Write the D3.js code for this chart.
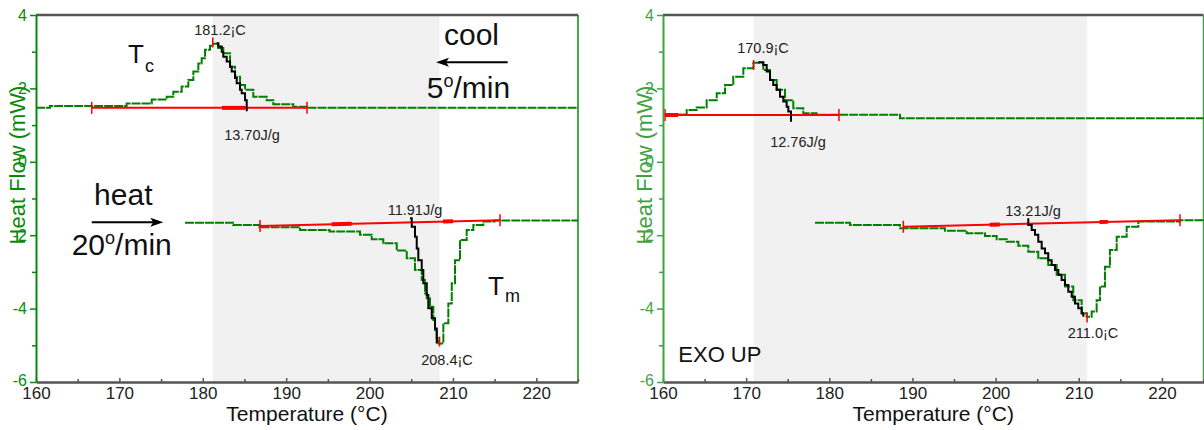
<!DOCTYPE html>
<meta charset="utf-8">
<style>
body { margin: 0; background: #fff; }
svg { display: block; font-family: "Liberation Sans", Arial, sans-serif; }
</style>
<body>
<script src="https://cdn.jsdelivr.net/npm/d3@7"></script>
<script>

var xTicks = [160, 170, 180, 190, 200, 210, 220];
var xMinor = [165, 175, 185, 195, 205, 215, 225];
var yTicks = [4, 2, 0, -2, -4, -6];
var yMinor = [3, 1, -1, -3, -5];

// left run: Tc 181.2, Tm 208.4
var spanA = [181.2, 208.4];
var coolA = [[160,1.47],[161.68,1.52],[170.87,1.59],[173.88,1.70],[175.68,1.77],[176.47,1.91],[177.47,2.05],
  [178.27,2.23],[178.87,2.46],[179.47,2.68],[179.87,2.82],[180.27,3.05],[180.87,3.16],[181.26,3.22],
  [181.86,3.10],[182.46,2.96],[183.27,2.59],[183.87,2.32],[184.47,2.09],[185.07,1.96],[186.06,1.77],
  [187.67,1.68],[188.46,1.57],[190.86,1.50],[192.5,1.47],[225,1.47]];
var coolFitA = [[181.66,3.23],[181.86,3.14],[182.27,3.00],[182.46,2.86],[182.87,2.73],[183.27,2.59],
  [183.47,2.46],[183.87,2.28],[184.07,2.14],[184.47,1.96],[184.67,1.87],[185.07,1.68],[185.27,1.38]];
var coolBaseA = [[166.68,1.47],[192.5,1.47]];
var coolMarksA = [[182.3,185.1]];
var heatA = [[177.87,-1.66],[183.63,-1.72],[186.8,-1.78],[191.66,-1.86],[195.2,-1.90],[198.86,-1.99],
  [200.26,-2.11],[201.65,-2.22],[203.26,-2.42],[204.46,-2.63],[205.45,-2.95],[206.26,-3.22],[206.65,-3.58],
  [206.86,-3.72],[207.25,-3.95],[207.65,-4.31],[207.85,-4.58],[208.06,-4.81],[208.25,-4.95],[208.85,-4.40],
  [209.45,-3.86],[209.86,-3.31],[210.25,-2.68],[210.85,-2.13],[211.65,-1.86],[212.45,-1.72],[213.65,-1.63],
  [215.0,-1.60],[225,-1.60]];
var heatFitA = [[204.85,-1.54],[205.06,-1.77],[205.45,-2.04],[205.66,-2.36],[205.85,-2.68],[206.26,-2.95],
  [206.45,-3.31],[206.86,-3.63],[207.05,-3.99],[207.46,-4.26],[207.85,-4.54],[208.06,-4.95]];
var heatBaseA = [[186.87,-1.75],[215.65,-1.59]];
var heatMarksA = [[195.46,197.86],[208.81,210.01]];
var peaksA = [[181.2,3.25],[208.4,-4.90]];
var labelsA = ["181.2¡C", "13.70J/g", "11.91J/g", "208.4¡C"];

// right run: Tc 170.9, Tm 211.0
var spanB = [170.9, 211.0];
var coolB = [[160,1.29],[162.85,1.41],[164.05,1.48],[165.25,1.68],[166.46,1.87],[167.46,2.09],[168.45,2.32],
  [169.66,2.55],[170.86,2.70],[172.06,2.50],[172.87,2.23],[173.67,1.96],[174.67,1.68],[175.67,1.46],
  [176.87,1.32],[178.48,1.28],[188.5,1.19],[225,1.19]];
var coolFitB = [[171.46,2.71],[172.06,2.64],[172.47,2.46],[172.87,2.23],[173.26,2.09],[173.67,1.96],
  [174.07,1.77],[174.47,1.64],[174.87,1.50],[175.07,1.37],[175.39,1.09]];
var coolBaseB = [[160.24,1.275],[181.16,1.275]];
var coolMarksB = [[160.24,161.8]];
var heatB = [[178.28,-1.66],[182.49,-1.72],[188.5,-1.81],[193.91,-1.88],[196.52,-1.95],[198.72,-2.02],
  [200.13,-2.11],[201.33,-2.18],[202.73,-2.29],[203.93,-2.45],[205.13,-2.63],[206.33,-2.81],[207.34,-3.08],
  [208.34,-3.40],[209.34,-3.77],[210.35,-4.13],[210.95,-4.22],[211.55,-4.08],[212.15,-3.77],[212.55,-3.40],
  [213.15,-2.86],[213.75,-2.40],[214.56,-2.04],[215.76,-1.77],[217.16,-1.63],[222.17,-1.59],[225,-1.59]];
var heatFitB = [[203.93,-1.54],[203.93,-1.72],[204.34,-1.86],[204.73,-1.99],[205.13,-2.18],[205.54,-2.36],
  [205.94,-2.49],[206.33,-2.68],[206.74,-2.81],[207.14,-2.95],[207.54,-3.08],[207.94,-3.22],[208.34,-3.36],
  [208.74,-3.54],[209.15,-3.68],[209.54,-3.86],[209.94,-3.99],[210.35,-4.13],[210.55,-4.22]];
var heatBaseB = [[188.9,-1.77],[222.17,-1.59]];
var heatMarksB = [[199.3,200.5],[212.5,213.5]];
var peaksB = [[170.9,2.64],[211.0,-4.24]];
var labelsB = ["170.9¡C", "12.76J/g", "13.21J/g", "211.0¡C"];

var W = 1204, H = 430, yTop = 15, yBot = 382;

var svg = d3.select("body").append("svg")
    .attr("width", W)
    .attr("height", H);

function arrow(g, x1, x2, yy) {
  var dir = x2 > x1 ? 1 : -1;
  g.append("line")
    .attr("x1", x1).attr("x2", x2 - dir * 8).attr("y1", yy).attr("y2", yy)
    .attr("stroke", "#000").attr("stroke-width", 2);
  g.append("path")
    .attr("d", "M" + x2 + "," + yy + "L" + (x2 - dir * 13) + "," + (yy - 4.5) +
      "L" + (x2 - dir * 10) + "," + yy + "L" + (x2 - dir * 13) + "," + (yy + 4.5) + "Z")
    .attr("fill", "#000");
}

function rateText(g, x0, yy, num) {
  var t = g.append("text").attr("x", x0).attr("y", yy)
    .attr("font-size", 30).attr("fill", "#111");
  t.append("tspan").text(num);
  t.append("tspan").attr("font-size", 18).attr("dy", -11).text("o");
  t.append("tspan").attr("dy", 11).text("/min");
}

function drawPanel(p) {
  var x = d3.scaleLinear().domain([160, 225]).range([p.x0, p.x1]);
  var y = d3.scaleLinear().domain([-6, 4]).range([yBot, yTop]);
  var g = svg.append("g");

  g.append("rect")
    .attr("x", x(p.span[0])).attr("y", y(4))
    .attr("width", x(p.span[1]) - x(p.span[0]))
    .attr("height", y(-6) - y(4))
    .attr("fill", "#f1f1f1");

  g.append("line")
    .attr("x1", x(160)).attr("x2", x(225)).attr("y1", y(4)).attr("y2", y(4))
    .attr("stroke", "#555").attr("stroke-width", 2.5);
  g.append("line")
    .attr("x1", x(225)).attr("x2", x(225)).attr("y1", y(4)).attr("y2", y(-6))
    .attr("stroke", p.color).attr("stroke-width", 1.5);

  var line = d3.line()
    .x(function(d) { return x(d[0]); })
    .y(function(d) { return y(d[1]); })
    .curve(d3.curveStepAfter);

  [p.cool, p.heat].forEach(function(c) {
    g.append("path").attr("d", line(c))
      .attr("fill", "none").attr("stroke", "#008000")
      .attr("stroke-width", 2).attr("stroke-dasharray", "9,1");
  });

  // red baselines with end ticks
  [[p.coolBase, p.coolMarks], [p.heatBase, p.heatMarks]].forEach(function(b) {
    var base = b[0];
    var q = d3.scaleLinear().domain([base[0][0], base[1][0]]).range([base[0][1], base[1][1]]);
    g.append("line")
      .attr("x1", x(base[0][0])).attr("y1", y(base[0][1]))
      .attr("x2", x(base[1][0])).attr("y2", y(base[1][1]))
      .attr("stroke", "#f00").attr("stroke-width", 2);
    base.forEach(function(pt) {
      g.append("line")
        .attr("x1", x(pt[0])).attr("x2", x(pt[0]))
        .attr("y1", y(pt[1]) - 6).attr("y2", y(pt[1]) + 6)
        .attr("stroke", "#f00").attr("stroke-width", 1.5);
    });
    b[1].forEach(function(m) {
      g.append("line")
        .attr("x1", x(m[0])).attr("y1", y(q(m[0])))
        .attr("x2", x(m[1])).attr("y2", y(q(m[1])))
        .attr("stroke", "#f00").attr("stroke-width", 4);
    });
  });

  [p.coolFit, p.heatFit].forEach(function(c) {
    g.append("path").attr("d", line(c))
      .attr("fill", "none").attr("stroke", "#000").attr("stroke-width", 2);
  });

  p.peaks.forEach(function(pk) {
    g.append("line")
      .attr("x1", x(pk[0])).attr("x2", x(pk[0]))
      .attr("y1", y(pk[1]) - 5).attr("y2", y(pk[1]) + 5)
      .attr("stroke", "#f00").attr("stroke-width", 1.5);
  });

  // axes
  var plain = function(d) { return String(d); };
  var xa = g.append("g").attr("transform", "translate(0," + yBot + ")")
    .call(d3.axisBottom(x).tickValues(xTicks).tickFormat(plain)
      .tickSizeInner(-4).tickSizeOuter(0).tickPadding(5));
  xa.attr("font-size", null).attr("font-family", null);
  xa.select(".domain").attr("stroke", "#555").attr("stroke-width", 2.5);
  xa.selectAll(".tick line").attr("stroke", "#555").attr("stroke-width", 1.5);
  xa.selectAll("text").attr("font-size", 17).attr("fill", "#222");
  var xm = g.append("g").attr("transform", "translate(0," + yBot + ")")
    .call(d3.axisBottom(x).tickValues(xMinor).tickSizeInner(-3).tickSizeOuter(0).tickFormat(""));
  xm.select(".domain").remove();
  xm.selectAll(".tick line").attr("stroke", "#555").attr("stroke-width", 1.5);

  var ya = g.append("g").attr("transform", "translate(" + p.x0 + ",0)")
    .call(d3.axisLeft(y).tickValues(yTicks).tickFormat(plain)
      .tickSize(6).tickSizeOuter(0).tickPadding(3));
  ya.attr("font-size", null).attr("font-family", null);
  ya.select(".domain").attr("stroke", p.color).attr("stroke-width", 2);
  ya.selectAll(".tick line").attr("stroke", p.color).attr("stroke-width", 1.5);
  ya.selectAll("text").attr("font-size", 16).attr("fill", p.color)
    .attr("dy", function(d) { return d === -6 ? "0.2em" : "0.32em"; });
  var ym = g.append("g").attr("transform", "translate(" + p.x0 + ",0)")
    .call(d3.axisLeft(y).tickValues(yMinor).tickSize(4).tickSizeOuter(0).tickFormat(""));
  ym.select(".domain").remove();
  ym.selectAll(".tick line").attr("stroke", p.color).attr("stroke-width", 1.5);

  g.append("text")
    .attr("x", (p.x0 + p.x1) / 2).attr("y", 421)
    .attr("text-anchor", "middle").attr("font-size", 21).attr("fill", "#111")
    .text("Temperature (°C)");
  g.append("text")
    .attr("transform", "translate(" + (p.x0 - 11) + ",165) rotate(-90)")
    .attr("text-anchor", "middle").attr("font-size", 22).attr("fill", p.color)
    .text("Heat Flow (mW)");

  // peak and enthalpy labels
  p.labelPos.forEach(function(lp, i) {
    g.append("text")
      .attr("x", lp[0]).attr("y", lp[1])
      .attr("text-anchor", "middle").attr("font-size", 14.5).attr("fill", "#222")
      .text(p.labels[i]);
  });
  return g;
}

var gA = drawPanel({
  x0: 36, x1: 578, color: "#0a8a0a", span: spanA,
  cool: coolA, coolFit: coolFitA, coolBase: coolBaseA, coolMarks: coolMarksA,
  heat: heatA, heatFit: heatFitA, heatBase: heatBaseA, heatMarks: heatMarksA,
  peaks: peaksA, labels: labelsA,
  labelPos: [[220, 35], [252, 140], [415, 215], [447, 365]]
});

var gB = drawPanel({
  x0: 663, x1: 1203.5, color: "#3fa33f", span: spanB,
  cool: coolB, coolFit: coolFitB, coolBase: coolBaseB, coolMarks: coolMarksB,
  heat: heatB, heatFit: heatFitB, heatBase: heatBaseB, heatMarks: heatMarksB,
  peaks: peaksB, labels: labelsB,
  labelPos: [[763, 53], [798, 146.5], [1033, 216], [1093, 338]]
});

// annotations, left panel
var tc = gA.append("text").attr("x", 128).attr("y", 63).attr("fill", "#111").attr("font-size", 26);
tc.append("tspan").text("T");
tc.append("tspan").attr("font-size", 18).attr("dx", 1).attr("dy", 9).text("c");

var tm = gA.append("text").attr("x", 488).attr("y", 295).attr("fill", "#111").attr("font-size", 26);
tm.append("tspan").text("T");
tm.append("tspan").attr("font-size", 18).attr("dx", 1).attr("dy", 7).text("m");

gA.append("text").attr("x", 471.5).attr("y", 45)
  .attr("text-anchor", "middle").attr("font-size", 30).attr("fill", "#111").text("cool");
arrow(gA, 507.7, 436, 62.3);
rateText(gA, 426.7, 98, "5");

gA.append("text").attr("x", 123.3).attr("y", 205)
  .attr("text-anchor", "middle").attr("font-size", 30).attr("fill", "#111").text("heat");
arrow(gA, 91.7, 163.3, 222.3);
rateText(gA, 71.7, 255, "20");

// right panel
gB.append("text").attr("x", 678.3).attr("y", 361.7)
  .attr("font-size", 22).attr("fill", "#111").text("EXO UP");

</script>
</body>
